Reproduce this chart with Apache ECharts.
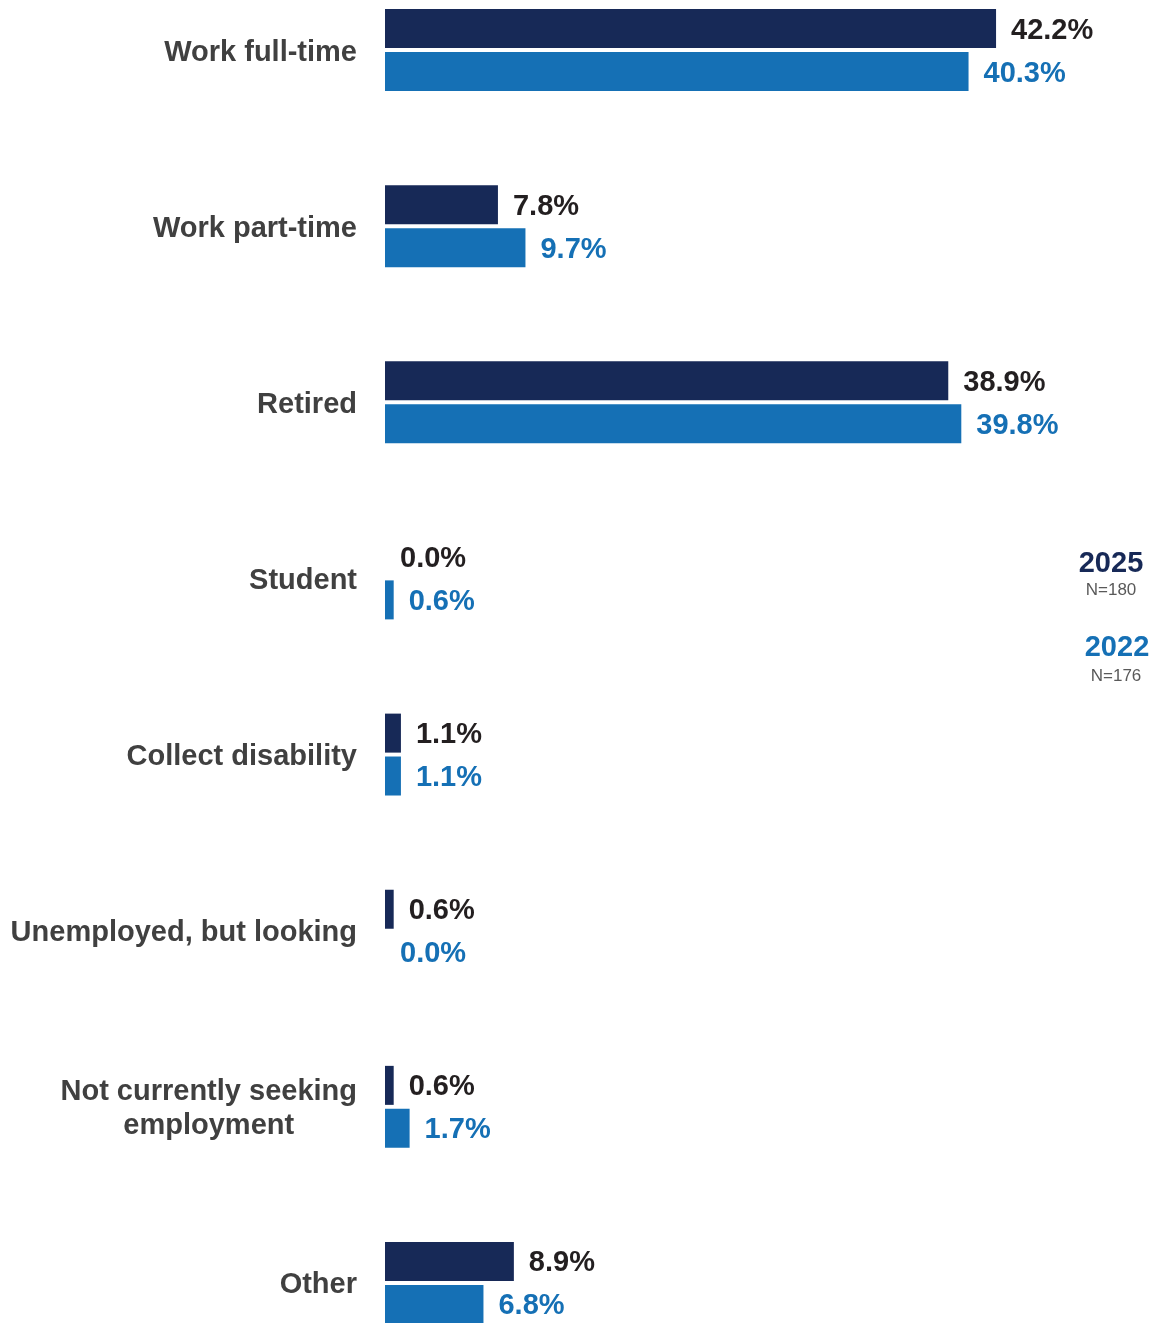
<!DOCTYPE html>
<html>
<head>
<meta charset="utf-8">
<script src="https://cdn.jsdelivr.net/npm/echarts@6/dist/echarts.min.js"></script>
<style>
  html, body { margin: 0; padding: 0; background: #ffffff; overflow: hidden; width: 1151px; height: 1323px; }
  /* plot area runs past the page edges so the outer bar groups sit at the borders */
  #chart { position: absolute; left: 0; top: -38px; width: 1151px; height: 1409px; }
</style>
</head>
<body>
<div id="chart"></div>
<script>
// Employment status, share of respondents by survey year
var categories = [
  'Work full-time',
  'Work part-time',
  'Retired',
  'Student',
  'Collect disability',
  'Unemployed, but looking',
  'Not currently seeking\nemployment',
  'Other'
];
var values2025 = [42.2, 7.8, 38.9, 0.0, 1.1, 0.6, 0.6, 8.9];
var values2022 = [40.3, 9.7, 39.8, 0.6, 1.1, 0.0, 1.7, 6.8];
var seriesNames = ['2025', '2022'];
var sampleSizes = ['N=180', 'N=176'];

var DARK = '#172957';
var BLUE = '#1570b5';
var FONT = '"Liberation Sans", Arial, Helvetica, sans-serif';
var OFFSET = 38; // chart div is shifted up by this many pixels

function pct(p) { return p.value.toFixed(1) + '%'; }

var chart = echarts.init(document.getElementById('chart'), null, { renderer: 'canvas' });

function legendText(x, y, text, font, fill) {
  return {
    type: 'text',
    x: x,
    y: y + OFFSET,
    style: { text: text, font: font, fill: fill, align: 'center', verticalAlign: 'middle' }
  };
}

function valueLabel(color) {
  return {
    show: true,
    position: 'right',
    distance: 15,
    offset: [0, 2],
    formatter: pct,
    fontFamily: FONT,
    fontSize: 29,
    fontWeight: 'bold',
    color: color
  };
}

chart.setOption({
  animation: false,
  backgroundColor: '#ffffff',
  grid: { left: 385, right: 42, top: 0, bottom: 0, containLabel: false },
  xAxis: {
    type: 'value',
    min: 0,
    max: 50,
    show: false
  },
  yAxis: {
    type: 'category',
    inverse: true,
    data: categories,
    axisLine: { show: false },
    axisTick: { show: false },
    splitLine: { show: false },
    axisLabel: {
      margin: 28,
      padding: [5, 0, 0, 0],
      fontFamily: FONT,
      fontSize: 29,
      fontWeight: 'bold',
      color: '#404040',
      lineHeight: 34,
      formatter: function (v) {
        return v.split('\n').map(function (s) { return '{c|' + s + '}'; }).join('\n');
      },
      rich: {
        c: {
          fontFamily: FONT,
          fontSize: 29,
          fontWeight: 'bold',
          color: '#404040',
          lineHeight: 34,
          align: 'center'
        }
      }
    }
  },
  series: [
    {
      name: seriesNames[0],
      type: 'bar',
      data: values2025,
      barWidth: 39,
      barGap: '10%',
      itemStyle: { color: DARK },
      label: valueLabel('#231f20')
    },
    {
      name: seriesNames[1],
      type: 'bar',
      data: values2022,
      barWidth: 39,
      barGap: '10%',
      itemStyle: { color: BLUE },
      label: valueLabel(BLUE)
    }
  ],
  graphic: [
    legendText(1111, 564, seriesNames[0], 'bold 29px ' + FONT, DARK),
    legendText(1111, 590, sampleSizes[0], '17px ' + FONT, '#595959'),
    legendText(1117, 648, seriesNames[1], 'bold 29px ' + FONT, BLUE),
    legendText(1116, 676, sampleSizes[1], '17px ' + FONT, '#595959')
  ]
});
</script>
</body>
</html>
